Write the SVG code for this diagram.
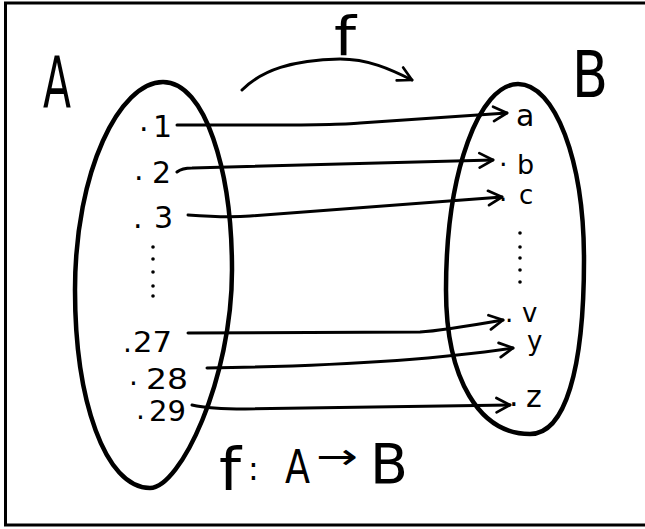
<svg xmlns="http://www.w3.org/2000/svg" width="645" height="529" viewBox="0 0 645 529">
<defs>
<style>
.ln{fill:none;stroke:#000;stroke-width:3;stroke-linecap:round;stroke-linejoin:round}
.set{fill:none;stroke:#000;stroke-width:4.5;stroke-linejoin:round}
.t{font-family:"DejaVu Sans","Liberation Sans",sans-serif;fill:#000}
.dot{fill:#000}
</style>
<marker id="head" viewBox="0 0 20 20" refX="18" refY="10" markerWidth="18" markerHeight="18" markerUnits="userSpaceOnUse" orient="auto">
<path d="M3,2 L18,10 L3,18" fill="none" stroke="#000" stroke-width="3" stroke-linecap="round" stroke-linejoin="round"/>
</marker>
</defs>
<rect x="0" y="0" width="645" height="529" fill="#fff"/>
<rect x="5.5" y="3" width="660" height="522" fill="none" stroke="#000" stroke-width="3"/>

<g id="setA">
<path class="set" d="M163,82 C205,82 232,170 232,270 C232,380 180,488 150,488 C105,488 75,400 75,290 C75,170 120,82 163,82 Z"/>
<text class="t" x="43" y="107" font-size="72" textLength="28" lengthAdjust="spacingAndGlyphs">A</text>
</g>
<g id="setB">
<path class="set" d="M518,84 C555,84 584,160 584,260 C584,370 565,434 530,434 C480,434 446,380 446,290 C446,170 480,84 518,84 Z"/>
<text class="t" x="572" y="97" font-size="64" textLength="36" lengthAdjust="spacingAndGlyphs">B</text>
</g>

<g id="a1"><text class="t" font-size="30"><tspan x="139" y="131">.</tspan><tspan x="153" y="137">1</tspan></text></g>
<g id="a2"><text class="t" font-size="30"><tspan x="134" y="180">.</tspan><tspan x="152" y="183">2</tspan></text></g>
<g id="a3"><text class="t" font-size="30"><tspan x="133" y="228">.</tspan><tspan x="154" y="228">3</tspan></text></g>
<g id="aDots">
<circle class="dot" cx="153" cy="247" r="1.8"/><circle class="dot" cx="153" cy="259" r="1.8"/><circle class="dot" cx="153" cy="272" r="1.8"/><circle class="dot" cx="153" cy="286" r="1.8"/><circle class="dot" cx="153" cy="296" r="1.8"/>
</g>
<g id="a27"><text class="t" font-size="28"><tspan x="123" y="352">.</tspan><tspan x="133" y="352" textLength="39" lengthAdjust="spacingAndGlyphs">27</tspan></text></g>
<g id="a28"><text class="t" font-size="28"><tspan x="129" y="385">.</tspan><tspan x="146" y="389" textLength="42" lengthAdjust="spacingAndGlyphs">28</tspan></text></g>
<g id="a29"><text class="t" font-size="28"><tspan x="136" y="419">.</tspan><tspan x="149" y="421" textLength="37" lengthAdjust="spacingAndGlyphs">29</tspan></text></g>

<g id="ba"><text class="t" x="516" y="126" font-size="30">a</text></g>
<g id="bb"><text class="t" font-size="27"><tspan x="499" y="166">.</tspan><tspan x="517" y="174">b</tspan></text></g>
<g id="bc"><text class="t" font-size="26"><tspan x="499" y="201">.</tspan><tspan x="519" y="204">c</tspan></text></g>
<g id="bDots">
<circle class="dot" cx="520" cy="233" r="1.8"/><circle class="dot" cx="520" cy="247" r="1.8"/><circle class="dot" cx="520" cy="258" r="1.8"/><circle class="dot" cx="520" cy="270" r="1.8"/><circle class="dot" cx="520" cy="282" r="1.8"/>
</g>
<g id="bv"><text class="t" font-size="26"><tspan x="505" y="322">.</tspan><tspan x="522" y="322">v</tspan></text></g>
<g id="by"><text class="t" font-size="26"><tspan x="507" y="350">.</tspan><tspan x="527" y="350">y</tspan></text></g>
<g id="bz"><text class="t" font-size="30"><tspan x="509" y="406">.</tspan><tspan x="526" y="407">z</tspan></text></g>

<g id="fmap">
<path class="ln" d="M242,90 C262,70 292,60 340,59 C368,59 390,69 412,80" marker-end="url(#head)"/>
<text class="t" x="334" y="55" font-size="54" textLength="22" lengthAdjust="spacingAndGlyphs">f</text>
</g>

<g id="connectors">
<path class="ln" d="M177,125 C260,125 330,126 360,123 L507,113" marker-end="url(#head)"/>
<path class="ln" d="M177,172 Q182,168 192,168 L493,160" marker-end="url(#head)"/>
<path class="ln" d="M188,215 Q228,218 250,216 L502,197" marker-end="url(#head)"/>
<path class="ln" d="M188,333 L420,332 Q440,331 503,320" marker-end="url(#head)"/>
<path class="ln" d="M207,368 Q400,365 513,348" marker-end="url(#head)"/>
<path class="ln" d="M192,405 Q210,409 245,409 L510,405" marker-end="url(#head)"/>
</g>

<g id="caption">
<text class="t" font-size="58"><tspan x="219" y="490" textLength="22" lengthAdjust="spacingAndGlyphs">f</tspan><tspan x="248" y="480" font-size="32">:</tspan><tspan x="285" y="483" font-size="46" textLength="25" lengthAdjust="spacingAndGlyphs">A</tspan><tspan x="316" y="469" font-size="36" textLength="42" lengthAdjust="spacingAndGlyphs">→</tspan><tspan x="370" y="483" font-size="56" textLength="38" lengthAdjust="spacingAndGlyphs">B</tspan></text>
</g>
</svg>
